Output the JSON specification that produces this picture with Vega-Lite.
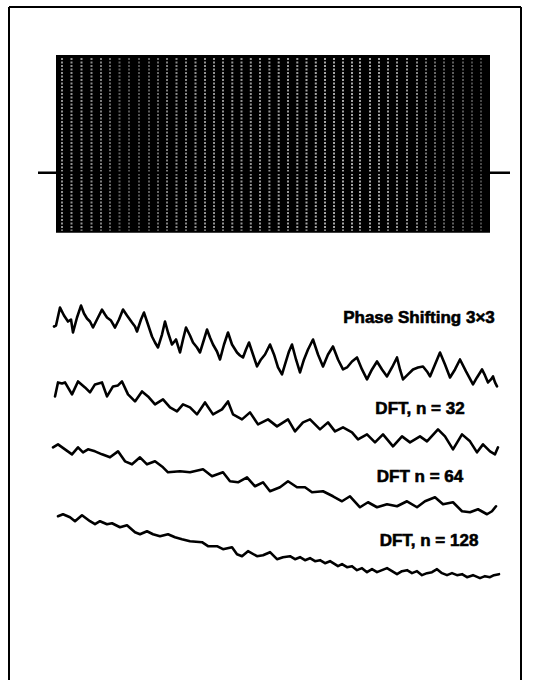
{
  "$schema": "https://vega.github.io/schema/vega-lite/v6.json",
  "width": 542,
  "height": 681,
  "padding": 0,
  "autosize": {"type": "fit", "contains": "padding"},
  "background": "white",
  "config": {"view": {"stroke": null}},
  "datasets": {
    "frame": [
      {"x": 9, "x2": 9, "y": 7, "y2": 681},
      {"x": 9, "x2": 521, "y": 7, "y2": 7},
      {"x": 521, "x2": 521, "y": 7, "y2": 681}
    ],
    "fringeField": [{"x0": 56, "x1": 490, "y0": 55, "y1": 233}],
    "fringes": [
      {"x": 62, "contrast": 0.7}, {"x": 71.5, "contrast": 0.7}, {"x": 81.5, "contrast": 0.7},
      {"x": 91.5, "contrast": 0.65}, {"x": 101, "contrast": 0.6}, {"x": 110, "contrast": 0.5},
      {"x": 119.5, "contrast": 0.45}, {"x": 129, "contrast": 0.4}, {"x": 139, "contrast": 0.4},
      {"x": 149, "contrast": 0.45}, {"x": 158, "contrast": 0.5}, {"x": 167, "contrast": 0.6},
      {"x": 176.5, "contrast": 0.65}, {"x": 186, "contrast": 0.65}, {"x": 195.5, "contrast": 0.7},
      {"x": 205, "contrast": 0.7}, {"x": 214, "contrast": 0.7}, {"x": 223, "contrast": 0.7},
      {"x": 232.3, "contrast": 0.7}, {"x": 241.5, "contrast": 0.7}, {"x": 250.8, "contrast": 0.72},
      {"x": 260, "contrast": 0.72}, {"x": 269.4, "contrast": 0.72}, {"x": 278.7, "contrast": 0.75},
      {"x": 288, "contrast": 0.75}, {"x": 297.3, "contrast": 0.75}, {"x": 306.5, "contrast": 0.78},
      {"x": 315.8, "contrast": 0.8}, {"x": 325, "contrast": 0.8}, {"x": 334, "contrast": 0.8},
      {"x": 343, "contrast": 0.8}, {"x": 352, "contrast": 0.8}, {"x": 360, "contrast": 0.8},
      {"x": 370, "contrast": 0.8}, {"x": 379, "contrast": 0.78}, {"x": 388, "contrast": 0.75},
      {"x": 397, "contrast": 0.72}, {"x": 407, "contrast": 0.7}, {"x": 417, "contrast": 0.65},
      {"x": 426, "contrast": 0.55}, {"x": 435, "contrast": 0.5}, {"x": 444, "contrast": 0.45},
      {"x": 453, "contrast": 0.45}, {"x": 463, "contrast": 0.4}, {"x": 472, "contrast": 0.35},
      {"x": 481, "contrast": 0.35}
    ],
    "baseline": [{"x": 38, "x2": 510, "y": 173}],
    "traces": [
      {"s": "ps", "x": 54, "y": 327}, {"s": "ps", "x": 56, "y": 326}, {"s": "ps", "x": 60, "y": 308},
      {"s": "ps", "x": 64, "y": 316}, {"s": "ps", "x": 68, "y": 322}, {"s": "ps", "x": 71, "y": 320},
      {"s": "ps", "x": 73, "y": 333}, {"s": "ps", "x": 77, "y": 318}, {"s": "ps", "x": 81, "y": 306},
      {"s": "ps", "x": 84, "y": 314}, {"s": "ps", "x": 87, "y": 319}, {"s": "ps", "x": 90, "y": 322},
      {"s": "ps", "x": 93, "y": 328}, {"s": "ps", "x": 97, "y": 320}, {"s": "ps", "x": 102, "y": 310},
      {"s": "ps", "x": 105, "y": 315}, {"s": "ps", "x": 107, "y": 318}, {"s": "ps", "x": 111, "y": 321},
      {"s": "ps", "x": 115, "y": 328}, {"s": "ps", "x": 119, "y": 320}, {"s": "ps", "x": 123, "y": 310},
      {"s": "ps", "x": 127, "y": 316}, {"s": "ps", "x": 132, "y": 323}, {"s": "ps", "x": 135, "y": 327},
      {"s": "ps", "x": 137, "y": 332}, {"s": "ps", "x": 141, "y": 320}, {"s": "ps", "x": 144, "y": 313},
      {"s": "ps", "x": 148, "y": 325}, {"s": "ps", "x": 152, "y": 337}, {"s": "ps", "x": 155, "y": 343},
      {"s": "ps", "x": 158, "y": 348}, {"s": "ps", "x": 162, "y": 335}, {"s": "ps", "x": 165, "y": 322},
      {"s": "ps", "x": 168, "y": 333}, {"s": "ps", "x": 172, "y": 345}, {"s": "ps", "x": 176, "y": 340},
      {"s": "ps", "x": 180, "y": 353}, {"s": "ps", "x": 183, "y": 340}, {"s": "ps", "x": 186, "y": 328},
      {"s": "ps", "x": 190, "y": 336}, {"s": "ps", "x": 193, "y": 343}, {"s": "ps", "x": 197, "y": 348},
      {"s": "ps", "x": 200, "y": 353}, {"s": "ps", "x": 204, "y": 340}, {"s": "ps", "x": 207, "y": 330},
      {"s": "ps", "x": 210, "y": 338}, {"s": "ps", "x": 213, "y": 345}, {"s": "ps", "x": 217, "y": 352},
      {"s": "ps", "x": 220, "y": 360}, {"s": "ps", "x": 224, "y": 345}, {"s": "ps", "x": 228, "y": 333},
      {"s": "ps", "x": 232, "y": 345}, {"s": "ps", "x": 237, "y": 353}, {"s": "ps", "x": 240, "y": 356},
      {"s": "ps", "x": 243, "y": 358}, {"s": "ps", "x": 246, "y": 350}, {"s": "ps", "x": 249, "y": 343},
      {"s": "ps", "x": 253, "y": 355}, {"s": "ps", "x": 257, "y": 367}, {"s": "ps", "x": 261, "y": 360},
      {"s": "ps", "x": 265, "y": 355}, {"s": "ps", "x": 270, "y": 345}, {"s": "ps", "x": 274, "y": 355},
      {"s": "ps", "x": 278, "y": 368}, {"s": "ps", "x": 282, "y": 375}, {"s": "ps", "x": 285, "y": 365},
      {"s": "ps", "x": 289, "y": 352}, {"s": "ps", "x": 292, "y": 345}, {"s": "ps", "x": 296, "y": 360},
      {"s": "ps", "x": 300, "y": 373}, {"s": "ps", "x": 304, "y": 360}, {"s": "ps", "x": 308, "y": 350},
      {"s": "ps", "x": 313, "y": 340}, {"s": "ps", "x": 318, "y": 355}, {"s": "ps", "x": 323, "y": 367},
      {"s": "ps", "x": 328, "y": 355}, {"s": "ps", "x": 333, "y": 347}, {"s": "ps", "x": 338, "y": 360},
      {"s": "ps", "x": 343, "y": 370}, {"s": "ps", "x": 347, "y": 368}, {"s": "ps", "x": 352, "y": 362},
      {"s": "ps", "x": 357, "y": 358}, {"s": "ps", "x": 362, "y": 370}, {"s": "ps", "x": 367, "y": 380},
      {"s": "ps", "x": 372, "y": 370}, {"s": "ps", "x": 377, "y": 362}, {"s": "ps", "x": 382, "y": 370},
      {"s": "ps", "x": 387, "y": 377}, {"s": "ps", "x": 392, "y": 368}, {"s": "ps", "x": 397, "y": 358},
      {"s": "ps", "x": 400, "y": 370}, {"s": "ps", "x": 403, "y": 380}, {"s": "ps", "x": 408, "y": 375},
      {"s": "ps", "x": 413, "y": 370}, {"s": "ps", "x": 418, "y": 368}, {"s": "ps", "x": 423, "y": 367},
      {"s": "ps", "x": 427, "y": 372}, {"s": "ps", "x": 430, "y": 377}, {"s": "ps", "x": 435, "y": 365},
      {"s": "ps", "x": 440, "y": 353}, {"s": "ps", "x": 445, "y": 365}, {"s": "ps", "x": 450, "y": 378},
      {"s": "ps", "x": 455, "y": 370}, {"s": "ps", "x": 460, "y": 360}, {"s": "ps", "x": 466, "y": 372},
      {"s": "ps", "x": 473, "y": 385}, {"s": "ps", "x": 477, "y": 378}, {"s": "ps", "x": 482, "y": 370},
      {"s": "ps", "x": 485, "y": 376}, {"s": "ps", "x": 488, "y": 383}, {"s": "ps", "x": 491, "y": 380},
      {"s": "ps", "x": 493, "y": 377}, {"s": "ps", "x": 495, "y": 383}, {"s": "ps", "x": 497, "y": 387},

      {"s": "d32", "x": 55, "y": 397}, {"s": "d32", "x": 58, "y": 383}, {"s": "d32", "x": 62, "y": 384},
      {"s": "d32", "x": 65, "y": 383}, {"s": "d32", "x": 72, "y": 395}, {"s": "d32", "x": 78, "y": 382},
      {"s": "d32", "x": 85, "y": 388}, {"s": "d32", "x": 90, "y": 393}, {"s": "d32", "x": 95, "y": 385},
      {"s": "d32", "x": 102, "y": 383}, {"s": "d32", "x": 107, "y": 397}, {"s": "d32", "x": 113, "y": 387},
      {"s": "d32", "x": 118, "y": 386}, {"s": "d32", "x": 122, "y": 382}, {"s": "d32", "x": 128, "y": 395},
      {"s": "d32", "x": 135, "y": 402}, {"s": "d32", "x": 142, "y": 392}, {"s": "d32", "x": 148, "y": 397},
      {"s": "d32", "x": 155, "y": 405}, {"s": "d32", "x": 163, "y": 400}, {"s": "d32", "x": 170, "y": 408},
      {"s": "d32", "x": 177, "y": 412}, {"s": "d32", "x": 183, "y": 405}, {"s": "d32", "x": 190, "y": 408},
      {"s": "d32", "x": 197, "y": 415}, {"s": "d32", "x": 205, "y": 403}, {"s": "d32", "x": 213, "y": 415},
      {"s": "d32", "x": 222, "y": 410}, {"s": "d32", "x": 228, "y": 402}, {"s": "d32", "x": 233, "y": 415},
      {"s": "d32", "x": 242, "y": 420}, {"s": "d32", "x": 250, "y": 413}, {"s": "d32", "x": 258, "y": 425},
      {"s": "d32", "x": 268, "y": 420}, {"s": "d32", "x": 277, "y": 427}, {"s": "d32", "x": 288, "y": 420},
      {"s": "d32", "x": 295, "y": 432}, {"s": "d32", "x": 303, "y": 423}, {"s": "d32", "x": 310, "y": 420},
      {"s": "d32", "x": 320, "y": 430}, {"s": "d32", "x": 328, "y": 423}, {"s": "d32", "x": 335, "y": 432},
      {"s": "d32", "x": 343, "y": 428}, {"s": "d32", "x": 352, "y": 433}, {"s": "d32", "x": 358, "y": 440},
      {"s": "d32", "x": 367, "y": 435}, {"s": "d32", "x": 375, "y": 443}, {"s": "d32", "x": 383, "y": 435},
      {"s": "d32", "x": 393, "y": 447}, {"s": "d32", "x": 402, "y": 437}, {"s": "d32", "x": 410, "y": 443},
      {"s": "d32", "x": 420, "y": 437}, {"s": "d32", "x": 427, "y": 442}, {"s": "d32", "x": 438, "y": 430},
      {"s": "d32", "x": 445, "y": 437}, {"s": "d32", "x": 453, "y": 450}, {"s": "d32", "x": 462, "y": 435},
      {"s": "d32", "x": 470, "y": 442}, {"s": "d32", "x": 477, "y": 453}, {"s": "d32", "x": 483, "y": 445},
      {"s": "d32", "x": 490, "y": 452}, {"s": "d32", "x": 495, "y": 455}, {"s": "d32", "x": 498, "y": 448},

      {"s": "d64", "x": 53, "y": 448}, {"s": "d64", "x": 58, "y": 445}, {"s": "d64", "x": 65, "y": 450},
      {"s": "d64", "x": 72, "y": 455}, {"s": "d64", "x": 78, "y": 448}, {"s": "d64", "x": 83, "y": 453},
      {"s": "d64", "x": 88, "y": 450}, {"s": "d64", "x": 95, "y": 452}, {"s": "d64", "x": 102, "y": 455},
      {"s": "d64", "x": 110, "y": 458}, {"s": "d64", "x": 118, "y": 452}, {"s": "d64", "x": 125, "y": 462},
      {"s": "d64", "x": 132, "y": 465}, {"s": "d64", "x": 140, "y": 458}, {"s": "d64", "x": 147, "y": 465},
      {"s": "d64", "x": 155, "y": 462}, {"s": "d64", "x": 163, "y": 468}, {"s": "d64", "x": 168, "y": 473},
      {"s": "d64", "x": 180, "y": 472}, {"s": "d64", "x": 190, "y": 473}, {"s": "d64", "x": 203, "y": 470},
      {"s": "d64", "x": 212, "y": 477}, {"s": "d64", "x": 223, "y": 473}, {"s": "d64", "x": 230, "y": 482},
      {"s": "d64", "x": 238, "y": 483}, {"s": "d64", "x": 247, "y": 478}, {"s": "d64", "x": 255, "y": 487},
      {"s": "d64", "x": 263, "y": 483}, {"s": "d64", "x": 270, "y": 492}, {"s": "d64", "x": 280, "y": 488},
      {"s": "d64", "x": 288, "y": 482}, {"s": "d64", "x": 297, "y": 488}, {"s": "d64", "x": 305, "y": 488},
      {"s": "d64", "x": 312, "y": 493}, {"s": "d64", "x": 323, "y": 492}, {"s": "d64", "x": 333, "y": 497},
      {"s": "d64", "x": 342, "y": 502}, {"s": "d64", "x": 350, "y": 497}, {"s": "d64", "x": 360, "y": 508},
      {"s": "d64", "x": 368, "y": 503}, {"s": "d64", "x": 377, "y": 508}, {"s": "d64", "x": 387, "y": 505},
      {"s": "d64", "x": 397, "y": 507}, {"s": "d64", "x": 407, "y": 502}, {"s": "d64", "x": 417, "y": 508},
      {"s": "d64", "x": 425, "y": 502}, {"s": "d64", "x": 435, "y": 498}, {"s": "d64", "x": 443, "y": 505},
      {"s": "d64", "x": 453, "y": 503}, {"s": "d64", "x": 462, "y": 512}, {"s": "d64", "x": 470, "y": 513},
      {"s": "d64", "x": 478, "y": 510}, {"s": "d64", "x": 487, "y": 515}, {"s": "d64", "x": 492, "y": 512},
      {"s": "d64", "x": 496, "y": 507},

      {"s": "d128", "x": 58, "y": 517}, {"s": "d128", "x": 63, "y": 515}, {"s": "d128", "x": 70, "y": 518},
      {"s": "d128", "x": 75, "y": 522}, {"s": "d128", "x": 82, "y": 516}, {"s": "d128", "x": 90, "y": 522},
      {"s": "d128", "x": 95, "y": 525}, {"s": "d128", "x": 100, "y": 522}, {"s": "d128", "x": 107, "y": 525},
      {"s": "d128", "x": 112, "y": 524}, {"s": "d128", "x": 120, "y": 528}, {"s": "d128", "x": 127, "y": 526},
      {"s": "d128", "x": 135, "y": 533}, {"s": "d128", "x": 140, "y": 535}, {"s": "d128", "x": 147, "y": 532},
      {"s": "d128", "x": 153, "y": 535}, {"s": "d128", "x": 160, "y": 537}, {"s": "d128", "x": 168, "y": 535},
      {"s": "d128", "x": 175, "y": 538}, {"s": "d128", "x": 182, "y": 540}, {"s": "d128", "x": 190, "y": 542},
      {"s": "d128", "x": 202, "y": 543}, {"s": "d128", "x": 208, "y": 547}, {"s": "d128", "x": 217, "y": 547},
      {"s": "d128", "x": 223, "y": 550}, {"s": "d128", "x": 232, "y": 548}, {"s": "d128", "x": 237, "y": 555},
      {"s": "d128", "x": 242, "y": 557}, {"s": "d128", "x": 248, "y": 552}, {"s": "d128", "x": 257, "y": 557},
      {"s": "d128", "x": 263, "y": 556}, {"s": "d128", "x": 270, "y": 553}, {"s": "d128", "x": 277, "y": 560},
      {"s": "d128", "x": 283, "y": 558}, {"s": "d128", "x": 290, "y": 557}, {"s": "d128", "x": 295, "y": 560},
      {"s": "d128", "x": 300, "y": 558}, {"s": "d128", "x": 305, "y": 561}, {"s": "d128", "x": 310, "y": 559},
      {"s": "d128", "x": 315, "y": 562}, {"s": "d128", "x": 320, "y": 561}, {"s": "d128", "x": 325, "y": 564},
      {"s": "d128", "x": 330, "y": 562}, {"s": "d128", "x": 338, "y": 567}, {"s": "d128", "x": 342, "y": 565},
      {"s": "d128", "x": 347, "y": 568}, {"s": "d128", "x": 352, "y": 567}, {"s": "d128", "x": 357, "y": 571},
      {"s": "d128", "x": 362, "y": 569}, {"s": "d128", "x": 367, "y": 573}, {"s": "d128", "x": 372, "y": 570},
      {"s": "d128", "x": 377, "y": 573}, {"s": "d128", "x": 382, "y": 571}, {"s": "d128", "x": 387, "y": 569},
      {"s": "d128", "x": 392, "y": 572}, {"s": "d128", "x": 397, "y": 575}, {"s": "d128", "x": 402, "y": 572},
      {"s": "d128", "x": 407, "y": 571}, {"s": "d128", "x": 412, "y": 574}, {"s": "d128", "x": 417, "y": 572},
      {"s": "d128", "x": 422, "y": 576}, {"s": "d128", "x": 427, "y": 574}, {"s": "d128", "x": 432, "y": 573},
      {"s": "d128", "x": 437, "y": 570}, {"s": "d128", "x": 442, "y": 574}, {"s": "d128", "x": 447, "y": 576},
      {"s": "d128", "x": 452, "y": 574}, {"s": "d128", "x": 457, "y": 576}, {"s": "d128", "x": 462, "y": 575},
      {"s": "d128", "x": 467, "y": 578}, {"s": "d128", "x": 473, "y": 576}, {"s": "d128", "x": 480, "y": 579},
      {"s": "d128", "x": 485, "y": 577}, {"s": "d128", "x": 490, "y": 578}, {"s": "d128", "x": 494, "y": 576},
      {"s": "d128", "x": 499, "y": 575}
    ],
    "labels": [
      {"x": 419, "y": 318, "text": "Phase Shifting 3×3"},
      {"x": 420, "y": 410, "text": "DFT, n = 32"},
      {"x": 420, "y": 478, "text": "DFT n = 64"},
      {"x": 429, "y": 542, "text": "DFT, n = 128"}
    ]
  },
  "layer": [
    {
      "data": {"name": "frame"},
      "mark": {"type": "rule", "stroke": "black", "strokeWidth": 2},
      "encoding": {
        "x": {"field": "x", "type": "quantitative", "scale": {"domain": [0, 542], "nice": false, "zero": false}, "axis": null},
        "x2": {"field": "x2"},
        "y": {"field": "y", "type": "quantitative", "scale": {"domain": [681, 0], "nice": false, "zero": false}, "axis": null},
        "y2": {"field": "y2"}
      }
    },
    {
      "data": {"name": "fringeField"},
      "mark": {"type": "rect", "fill": "black"},
      "encoding": {
        "x": {"field": "x0", "type": "quantitative"},
        "x2": {"field": "x1"},
        "y": {"field": "y0", "type": "quantitative"},
        "y2": {"field": "y1"}
      }
    },
    {
      "data": {"name": "fringes"},
      "mark": {"type": "rule", "stroke": "#e8e8e8", "strokeWidth": 2, "strokeDash": [2, 1.5]},
      "encoding": {
        "x": {"field": "x", "type": "quantitative"},
        "y": {"datum": 58},
        "y2": {"datum": 231},
        "opacity": {"field": "contrast", "type": "quantitative", "scale": {"domain": [0, 1], "range": [0, 0.9]}, "legend": null}
      }
    },
    {
      "data": {"name": "baseline"},
      "mark": {"type": "rule", "stroke": "black", "strokeWidth": 2.5},
      "encoding": {
        "x": {"field": "x", "type": "quantitative"},
        "x2": {"field": "x2"},
        "y": {"field": "y", "type": "quantitative"}
      }
    },
    {
      "data": {"name": "traces"},
      "mark": {"type": "line", "stroke": "black", "strokeWidth": 2.6, "strokeJoin": "round", "strokeCap": "round"},
      "encoding": {
        "x": {"field": "x", "type": "quantitative"},
        "y": {"field": "y", "type": "quantitative"},
        "detail": {"field": "s", "type": "nominal"},
        "order": {"field": "x", "type": "quantitative"}
      }
    },
    {
      "data": {"name": "labels"},
      "mark": {"type": "text", "font": "Liberation Sans", "fontWeight": "bold", "fontSize": 17, "align": "center", "baseline": "middle", "fill": "black", "stroke": "black", "strokeWidth": 0.6},
      "encoding": {
        "x": {"field": "x", "type": "quantitative"},
        "y": {"field": "y", "type": "quantitative"},
        "text": {"field": "text"}
      }
    }
  ]
}
